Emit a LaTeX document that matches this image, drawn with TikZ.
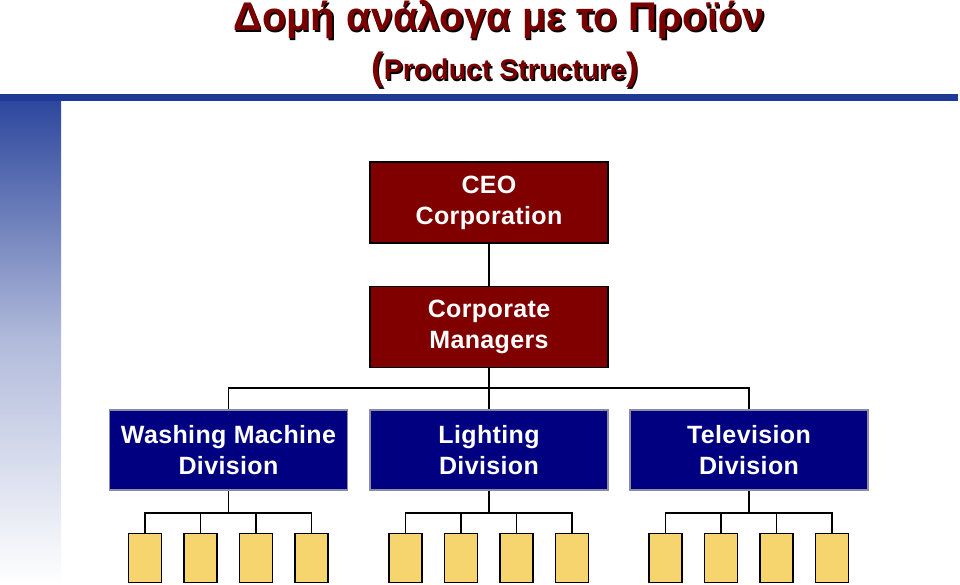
\documentclass[tikz,border=0pt]{standalone}
\usepackage{fontspec}
\setmainfont{Liberation Sans}
\newfontfamily\boxfont[LetterSpace=1.5]{Liberation Sans}
\definecolor{ceored}{RGB}{128,0,0}
\definecolor{titlered}{RGB}{122,0,0}
\definecolor{divblue}{RGB}{0,0,128}
\definecolor{divedge}{RGB}{140,140,165}
\definecolor{barblue}{RGB}{30,58,150}
\definecolor{unityellow}{RGB}{246,212,110}
\begin{document}
\begin{tikzpicture}[x=1pt,y=-1pt,
  redbox/.style={draw=black,line width=1.5pt,fill=ceored,text=white,minimum width=238pt,minimum height=81pt,align=center,inner sep=0pt,font=\boxfont\bfseries\fontsize{25}{31}\selectfont},
  bluebox/.style={draw=divedge,line width=1.8pt,fill=divblue,text=white,minimum width=238pt,minimum height=80pt,align=center,inner sep=0pt,font=\boxfont\bfseries\fontsize{25}{31}\selectfont},
  unit/.style={draw=black,line width=1.5pt,fill=unityellow,minimum width=33pt,minimum height=49pt,inner sep=0pt},
  link/.style={draw=black,line width=1.5pt},
  titletext/.style={font=\bfseries\fontsize{40}{42}\selectfont},
  subtext/.style={font=\bfseries\fontsize{28.5}{30}\selectfont}
]
\useasboundingbox (0,0) rectangle (960,584);
\fill[white] (0,0) rectangle (960,584);
% decorative bars
\shade[top color=barblue!95, bottom color=white, middle color=barblue!35] (0,94) rectangle (61,584);
\fill[barblue] (0,94) rectangle (958,100.5);
% title
\node[titletext,text=black] (titleshadow) at (500.5,21.5) {Δομή ανάλογα με το Προϊόν};
\node[titletext,text=titlered] (title) at (499,20) {Δομή ανάλογα με το Προϊόν};
\node[subtext,text=black] (subshadow) at (506.5,71.5) {{\fontsize{38}{38}\selectfont(}Product Structure{\fontsize{38}{38}\selectfont)}};
\node[subtext,text=titlered] (sub) at (505,70) {{\fontsize{38}{38}\selectfont(}Product Structure{\fontsize{38}{38}\selectfont)}};
% boxes
\node[redbox] (ceo) at (489,202.5) {CEO\\Corporation};
\node[redbox] (mgr) at (489,327) {Corporate\\Managers};
\node[bluebox] (wm) at (228.5,450) {Washing Machine\\Division};
\node[bluebox] (lt) at (489,450) {Lighting\\Division};
\node[bluebox] (tv) at (749,450) {Television\\Division};
\coordinate (bus) at (489,388);
\draw[link] (ceo.south) -- (mgr.north);
\draw[link] (mgr.south) -- (bus);
\draw[link] (wm.north) |- (bus) -| (tv.north);
\draw[link] (bus) -- (lt.north);
% units
\foreach \d/\c in {wm/228.5,lt/489,tv/749}{
  \coordinate (\d bus) at (\c,513);
  \node[unit] (\d u1) at (\c-83.5,558) {};
  \node[unit] (\d u2) at (\c-28,558) {};
  \node[unit] (\d u3) at (\c+27.5,558) {};
  \node[unit] (\d u4) at (\c+83,558) {};
  \draw[link] (\d.south) -- (\d bus);
  \draw[link] (\d u1.north) |- (\d bus) -| (\d u4.north);
  \draw[link] (\d u2.north) |- (\d bus);
  \draw[link] (\d u3.north) |- (\d bus);
}
\end{tikzpicture}
\end{document}
